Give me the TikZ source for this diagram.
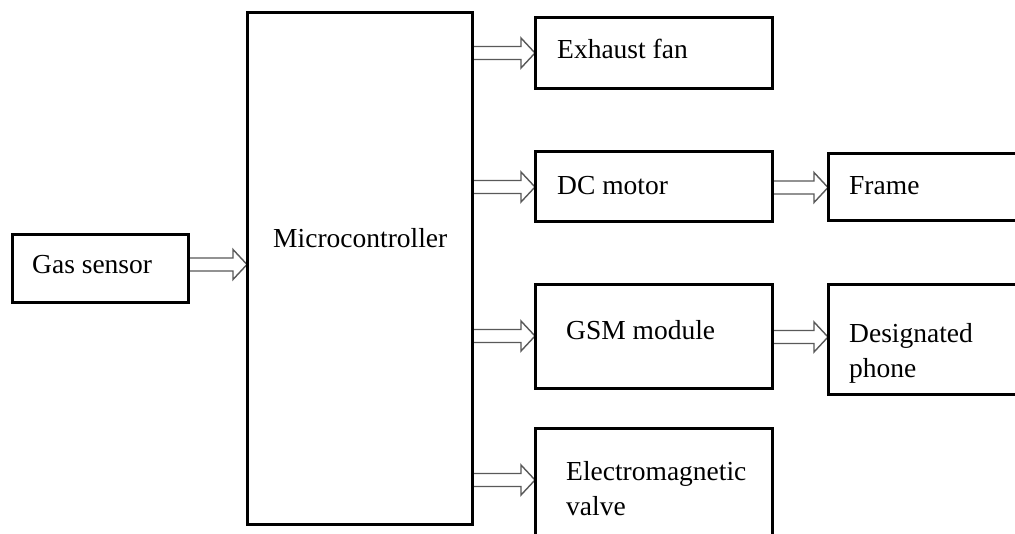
\documentclass[tikz,border=0pt]{standalone}
\usepackage{fontspec}
\setmainfont{Liberation Serif}
\usetikzlibrary{calc,backgrounds}
\tikzset{
  box/.style={draw=black, line width=3pt, rectangle, anchor=north west, inner sep=0pt, outer sep=0pt},
  lbl/.style={anchor=base west, inner sep=0pt, font=\fontsize{27.5}{35}\selectfont, align=left},
  arr/.style={draw=gray!70!black, line width=1.4pt, fill=white, line join=miter},
}
% #1 source node, #2 target node, #3 downward offset (px) of arrow axis from target centre
\newcommand{\openarrow}[3]{%
  \path[arr] let \p1=(#1.east), \p2=(#2.west), \n1={\y2-(#3)*1pt} in
    (\x1,\n1+6.5pt) -- (\x2-14pt,\n1+6.5pt) -- (\x2-14pt,\n1+15pt) -- (\x2,\n1)
    -- (\x2-14pt,\n1-15pt) -- (\x2-14pt,\n1-6.5pt) -- (\x1,\n1-6.5pt);
}
\begin{document}
\begin{tikzpicture}[x=1pt,y=-1pt]
\useasboundingbox (0,0) rectangle (1015,533);
% boxes
\node[box, minimum width=176pt, minimum height=68pt] (gas) at (12,234) {};
\node[box, minimum width=225pt, minimum height=512pt] (mcu) at (247,12) {};
\node[box, minimum width=237pt, minimum height=71pt] (fan) at (535,17.5) {};
\node[box, minimum width=237pt, minimum height=70pt] (dc) at (535,151) {};
\node[box, minimum width=237pt, minimum height=104pt] (gsm) at (535,284) {};
\node[box, minimum width=237pt, minimum height=132pt] (valve) at (535,428) {};
\node[box, minimum width=197pt, minimum height=67pt] (frame) at (828,153) {};
\node[box, minimum width=197pt, minimum height=110pt] (phone) at (828,284) {};
% labels
\node[lbl] (gas-t) at (32,273) {Gas sensor};
\node[lbl] (mcu-t) at (273,247) {Microcontroller};
\node[lbl] (fan-t) at (557,58) {Exhaust fan};
\node[lbl] (dc-t) at (557,194) {DC motor};
\node[lbl] (frame-t) at (849,194) {Frame};
\node[lbl] (gsm-t) at (566,339) {GSM module};
\node[lbl] (phone-t) at (849,377) {Designated\\phone};
\node[lbl] (valve-t) at (566,515) {Electromagnetic\\valve};
% arrows
\begin{scope}[on background layer]
\fill[white] (0,0) rectangle (1015,533);
\openarrow{gas}{mcu}{-3.5}
\openarrow{mcu}{fan}{0}
\openarrow{mcu}{dc}{1}
\openarrow{mcu}{gsm}{0}
\openarrow{mcu}{valve}{-14}
\openarrow{dc}{frame}{1}
\openarrow{gsm}{phone}{-2}
\end{scope}
\end{tikzpicture}
\end{document}
